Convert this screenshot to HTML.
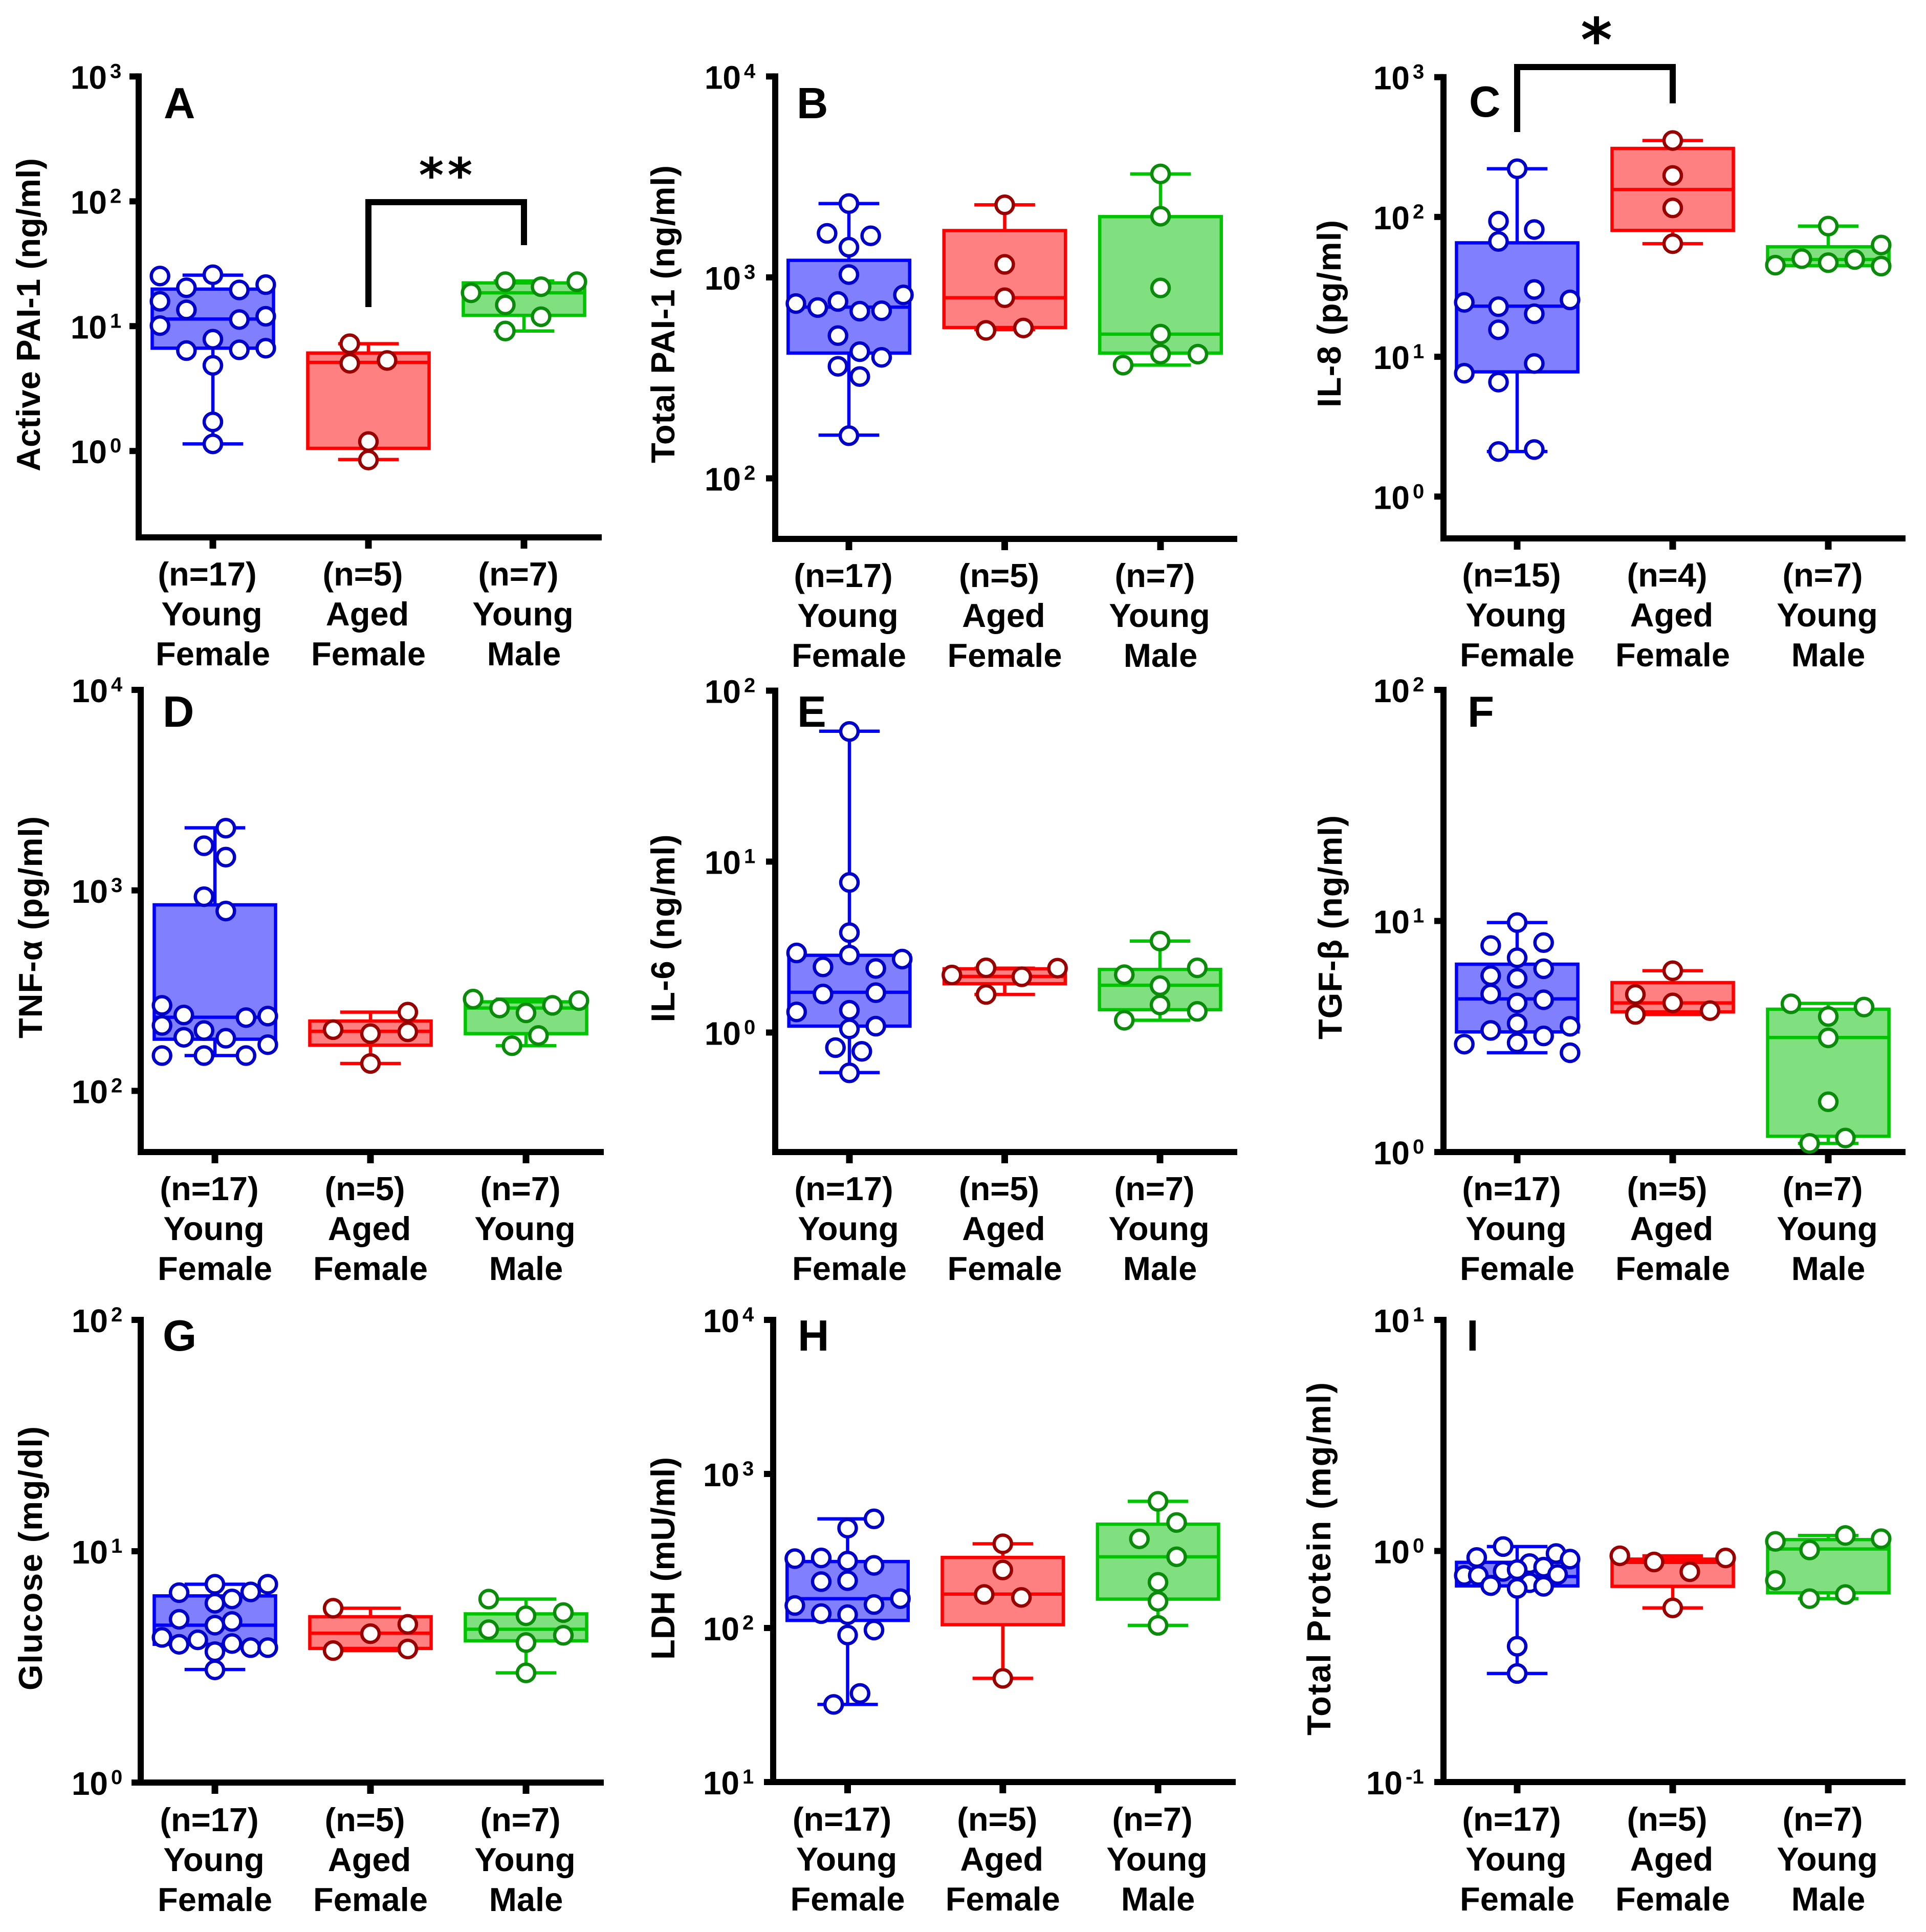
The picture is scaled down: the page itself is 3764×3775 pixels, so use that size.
<!DOCTYPE html>
<html lang="en">
<head>
<meta charset="utf-8">
<title>Box plots of plasma markers by group</title>
<style>
html,body{margin:0;padding:0;background:#fff;}
svg{display:block;}
text{font-family:"Liberation Sans",sans-serif;font-weight:bold;fill:#000;}
.title{font-size:65px;text-anchor:middle;}
.letter{font-size:85px;}
.star{font-family:"DejaVu Sans",sans-serif;text-anchor:middle;}
</style>
</head>
<body>
<svg id="figure" xmlns="http://www.w3.org/2000/svg" width="3764" height="3775" viewBox="0 0 3764 3775">
<rect x="0" y="0" width="3764" height="3775" fill="#fff"/>
<g id="panel-a"><g class="plot"></g>
<text class="title" textLength="612" transform="translate(78 615) rotate(-90)">Active PAI-1 (ng/ml)</text>
<text class="letter" x="320" y="231">A</text>
<text class="star" x="843 899" y="375" font-size="93">**</text></g>
<g id="panel-b"><g class="plot"></g>
<text class="title" textLength="582" transform="translate(1318 614) rotate(-90)">Total PAI-1 (ng/ml)</text>
<text class="letter" x="1557" y="231">B</text></g>
<g id="panel-c"><g class="plot"></g>
<text class="title" textLength="366" transform="translate(2620 613) rotate(-90)">IL-8 (pg/ml)</text>
<text class="letter" x="2871" y="228">C</text>
<text class="star" x="3120" y="119" font-size="118">*</text></g>
<g id="panel-d"><g class="plot"></g>
<text class="title" textLength="434" transform="translate(82 1812) rotate(-90)">TNF-α (pg/ml)</text>
<text class="letter" x="318" y="1420">D</text></g>
<g id="panel-e"><g class="plot"></g>
<text class="title" textLength="367" transform="translate(1318 1814) rotate(-90)">IL-6 (ng/ml)</text>
<text class="letter" x="1558" y="1420">E</text></g>
<g id="panel-f"><g class="plot"></g>
<text class="title" textLength="438" transform="translate(2622 1812) rotate(-90)">TGF-β (ng/ml)</text>
<text class="letter" x="2868" y="1420">F</text></g>
<g id="panel-g"><g class="plot"></g>
<text class="title" textLength="516" transform="translate(82 3045) rotate(-90)">Glucose (mg/dl)</text>
<text class="letter" x="318" y="2639">G</text></g>
<g id="panel-h"><g class="plot"></g>
<text class="title" textLength="396" transform="translate(1318 3045) rotate(-90)">LDH (mU/ml)</text>
<text class="letter" x="1559" y="2639">H</text></g>
<g id="panel-i"><g class="plot"></g>
<text class="title" textLength="690" transform="translate(2600 3046) rotate(-90)">Total Protein (mg/ml)</text>
<text class="letter" x="2866" y="2639">I</text></g>
</svg>
<script>
// Category labels
const groupLine2 = ['Young', 'Aged', 'Young'];
const groupLine3 = ['Female', 'Female', 'Male'];
const groupKeys = ['young-female', 'aged-female', 'young-male'];

// Sample sizes per panel
const A_n = [17, 5, 7];
const B_n = [17, 5, 7];
const C_n = [15, 4, 7];
const D_n = [17, 5, 7];
const E_n = [17, 5, 7];
const F_n = [17, 5, 7];
const G_n = [17, 5, 7];
const H_n = [17, 5, 7];
const I_n = [17, 5, 7];

// Log-axis tick exponents per panel
const A_ticks = [3, 2, 1, 0];
const B_ticks = [4, 3, 2];
const C_ticks = [3, 2, 1, 0];
const D_ticks = [4, 3, 2];
const E_ticks = [2, 1, 0];
const F_ticks = [2, 1, 0];
const G_ticks = [2, 1, 0];
const H_ticks = [4, 3, 2, 1];
const I_ticks = [1, 0, -1];

// Observations. *_v = values, *_j = swarm offset in category units, *_b = [min, q1, median, q3, max]
const A_young_v = [25.2,25.8,21.5,20.3,19.5,15.8,13.5,12.0,11.3,10.1,7.86,6.66,6.37,6.46,4.85,1.71,1.14];
const A_young_j = [-.34,0,.34,-.17,.17,-.34,-.17,.34,.17,-.34,0,.34,-.17,.17,0,0,0];
const A_young_b = [1.14,6.66,11.4,19.8,25.6];
const A_aged_v = [7.23,5.31,5.04,1.19,.847];
const A_aged_j = [-.12,.12,-.12,0,0];
const A_aged_b = [.854,1.05,5.12,6.09,7.23];
const A_male_v = [22.7,22.7,20.7,18.5,14.8,11.9,9.14];
const A_male_j = [-.12,.34,.11,-.34,-.12,.11,-.12];
const A_male_b = [9.14,12.2,18.5,22.2,23];

const B_young_v = [2330,1656,1610,1413,1033,818,741,708,759,679,682,513,427,400,361,321,163];
const B_young_j = [0,-.14,.14,0,0,.35,-.34,-.20,-.07,.07,.21,-.07,.07,.21,-.07,.07,0];
const B_young_b = [164,420,711,1216,2330];
const B_aged_v = [2296,1161,792,545,560];
const B_aged_j = [0,0,0,-.12,.12];
const B_aged_b = [550,563,792,1710,2296];
const B_male_v = [3273,2016,886,522,415,415,366];
const B_male_j = [0,0,0,0,0,.24,-.24];
const B_male_b = [366,420,522,2006,3273];

const C_young_v = [221,93.3,81.3,66.8,30.3,24.5,25.5,22.8,20.3,15.6,8.95,7.63,6.59,2.10,2.17];
const C_young_j = [0,-.12,.11,-.12,.11,-.34,.34,-.12,.11,-.12,.11,-.34,-.12,-.12,.11];
const C_young_b = [2.10,7.8,23.0,65.3,221];
const C_aged_v = [352,198,116,64.4];
const C_aged_j = [0,0,0,0];
const C_aged_b = [64.4,80.1,157,309,352];
const C_male_v = [86,63,50.3,49.6,47.1,45.2,44.5];
const C_male_j = [0,.34,-.17,.17,0,-.34,.34];
const C_male_b = [44.8,44.8,49.6,61.2,86];

const D_young_v = [2043,1670,1465,930,789,267,239,232,236,212,200,185,183,170,150,150,150];
const D_young_j = [.07,-.07,.07,-.07,.07,-.34,-.20,.20,.34,-.34,-.07,-.20,.07,.34,-.34,-.07,.20];
const D_young_b = [150,181,233,847,2052];
const D_aged_v = [247,202,197,193,137];
const D_aged_j = [.24,-.24,.24,0,0];
const D_aged_b = [137,169,198,223,247];
const D_male_v = [287,282,267,259,245,189,168];
const D_male_j = [-.34,.34,.17,-.17,0,.08,-.09];
const D_male_b = [168,193,259,278,287];

const E_young_v = [57.7,7.55,3.84,2.92,2.84,2.69,2.42,2.37,1.68,1.71,1.32,1.35,1.05,1.09,.816,.776,.581];
const E_young_j = [0,0,0,-.34,0,.34,-.17,.17,-.17,.17,-.34,0,0,.17,-.09,.08,0];
const E_young_b = [.583,1.09,1.72,2.83,57.9];
const E_aged_v = [2.38,2.39,2.17,2.12,1.67];
const E_aged_j = [.34,-.12,-.34,.11,-.12];
const E_aged_b = [1.67,1.93,2.13,2.36,2.38];
const E_male_v = [3.43,2.39,2.18,1.88,1.45,1.33,1.18];
const E_male_j = [0,.24,-.23,0,0,.24,-.23];
const E_male_b = [1.18,1.36,1.89,2.34,3.43];

const F_young_v = [9.84,7.83,8.06,6.93,6.21,5.80,5.64,4.83,4.56,4.42,3.60,3.50,3.36,3.18,2.93,2.97,2.69];
const F_young_j = [0,-.17,.17,0,.17,-.17,0,-.17,.17,0,0,.34,-.17,.17,-.34,0,.34];
const F_young_b = [2.69,3.31,4.60,6.50,9.84];
const F_aged_v = [6.09,4.81,4.42,3.94,4.09];
const F_aged_j = [0,-.24,0,-.24,.24];
const F_aged_b = [3.94,4.04,4.42,5.41,6.09];
const F_male_v = [4.38,4.24,3.86,3.12,1.65,1.15,1.09];
const F_male_j = [-.24,.23,0,0,0,.11,-.12];
const F_male_b = [1.09,1.17,3.13,4.15,4.40];

const G_young_v = [7.20,7.20,6.62,6.67,5.96,6.22,5.08,4.97,4.79,4.24,4.14,3.96,3.99,3.83,3.83,3.68,3.07];
const G_young_j = [.34,0,-.23,.23,0,.11,-.23,.11,0,-.34,-.11,-.23,.11,.23,.34,0,0];
const G_young_b = [3.08,3.96,4.79,6.41,7.20];
const G_aged_v = [5.67,4.83,4.40,3.72,3.78];
const G_aged_j = [-.24,.24,0,-.24,.24];
const G_aged_b = [3.72,3.80,4.42,5.21,5.67];
const G_male_v = [6.21,5.43,5.26,4.58,4.33,4.03,2.98];
const G_male_j = [-.24,.24,0,-.24,.24,0,0];
const G_male_b = [2.98,4.10,4.60,5.36,6.21];

const H_young_v = [511,445,282,285,272,255,203,200,155,140,142,124,122,97,90,37.6,31.9];
const H_young_j = [.17,0,-.34,-.17,0,.17,0,-.17,.34,-.34,.17,-.17,0,.17,0,.08,-.09];
const H_young_b = [31.9,112,155,270,511];
const H_aged_v = [352,238,165,158,47.1];
const H_aged_j = [0,0,-.12,.12,0];
const H_aged_b = [47.1,105,166,287,352];
const H_male_v = [664,484,379,290,198,149,104];
const H_male_j = [0,.12,-.12,.12,0,0,0];
const H_male_b = [104,154,290,472,664];

const I_young_v = [1.045,.975,.937,.922,.882,.851,.816,.830,.791,.784,.784,.708,.729,.703,.689,.387,.295];
const I_young_j = [-.09,.25,-.26,.34,.08,.17,-.09,0,.26,-.34,-.25,-.17,.08,.17,0,0,0];
const I_young_b = [.295,.706,.775,.893,1.045];
const I_aged_v = [.953,.933,.896,.813,.567];
const I_aged_j = [-.34,.34,-.12,.11,0];
const I_aged_b = [.567,.703,.893,.922,.953];
const I_male_v = [1.167,1.13,1.10,1.01,.746,.648,.622];
const I_male_j = [.11,.34,-.34,-.12,-.34,.11,-.12];
const I_male_b = [.622,.659,1.02,1.12,1.167];

// Panel frames (layout only)
const panels = [
  {id:'a', ax:271,  bottom:1050, right:1176, cat0:416,    step:304,   expHi:3, yHi:149.4,  expLo:0,  yLo:881.2,  labelEnd:209,  labelDy:0, n:A_n, ticks:A_ticks, groups:[[A_young_v,A_young_j,A_young_b],[A_aged_v,A_aged_j,A_aged_b],[A_male_v,A_male_j,A_male_b]], bracket:{from:1,to:2,y:395,yFrom:600,yTo:479}},
  {id:'b', ax:1515, bottom:1053, right:2418, cat0:1659,   step:304.5, expHi:4, yHi:149.4,  expLo:2,  yLo:934.6,  labelEnd:1448, labelDy:0, n:B_n, ticks:B_ticks, groups:[[B_young_v,B_young_j,B_young_b],[B_aged_v,B_aged_j,B_aged_b],[B_male_v,B_male_j,B_male_b]]},
  {id:'c', ax:2821, bottom:1052, right:3724, cat0:2965,   step:304,   expHi:3, yHi:150.7,  expLo:0,  yLo:970.3,  labelEnd:2755, labelDy:0, n:C_n, ticks:C_ticks, groups:[[C_young_v,C_young_j,C_young_b],[C_aged_v,C_aged_j,C_aged_b],[C_male_v,C_male_j,C_male_b]], bracket:{from:0,to:1,y:131,yFrom:258,yTo:202}},
  {id:'d', ax:275,  bottom:2251, right:1180, cat0:420,    step:304,   expHi:4, yHi:1348,   expLo:2,  yLo:2131.5, labelEnd:211,  labelDy:0, n:D_n, ticks:D_ticks, groups:[[D_young_v,D_young_j,D_young_b],[D_aged_v,D_aged_j,D_aged_b],[D_male_v,D_male_j,D_male_b]]},
  {id:'e', ax:1515, bottom:2251, right:2418, cat0:1660,   step:303.5, expHi:2, yHi:1349.5, expLo:0,  yLo:2017.5, labelEnd:1448, labelDy:0, n:E_n, ticks:E_ticks, groups:[[E_young_v,E_young_j,E_young_b],[E_aged_v,E_aged_j,E_aged_b],[E_male_v,E_male_j,E_male_b]]},
  {id:'f', ax:2821, bottom:2251, right:3724, cat0:2965,   step:304,   expHi:2, yHi:1348,   expLo:0,  yLo:2251,   labelEnd:2755, labelDy:0, n:F_n, ticks:F_ticks, groups:[[F_young_v,F_young_j,F_young_b],[F_aged_v,F_aged_j,F_aged_b],[F_male_v,F_male_j,F_male_b]]},
  {id:'g', ax:275,  bottom:3483, right:1180, cat0:420,    step:304,   expHi:2, yHi:2579,   expLo:0,  yLo:3483,   labelEnd:211,  labelDy:1, n:G_n, ticks:G_ticks, groups:[[G_young_v,G_young_j,G_young_b],[G_aged_v,G_aged_j,G_aged_b],[G_male_v,G_male_j,G_male_b]]},
  {id:'h', ax:1511, bottom:3482, right:2415, cat0:1656.5, step:303.3, expHi:4, yHi:2579,   expLo:1,  yLo:3482,   labelEnd:1445, labelDy:1, n:H_n, ticks:H_ticks, groups:[[H_young_v,H_young_j,H_young_b],[H_aged_v,H_aged_j,H_aged_b],[H_male_v,H_male_j,H_male_b]]},
  {id:'i', ax:2821, bottom:3482, right:3724, cat0:2965,   step:304,   expHi:1, yHi:2579,   expLo:-1, yLo:3482,   labelEnd:2755, labelDy:1, n:I_n, ticks:I_ticks, groups:[[I_young_v,I_young_j,I_young_b],[I_aged_v,I_aged_j,I_aged_b],[I_male_v,I_male_j,I_male_b]]}
];

const boxStroke = ['#0000ff', '#ff0000', '#00c400'];
const boxFill = ['#8080ff', '#ff8080', '#80e080'];
const dotStroke = ['#0000c8', '#990000', '#0a8c0a'];

const NS = 'http://www.w3.org/2000/svg';
function make(parent, tag, attrs) {
  const node = document.createElementNS(NS, tag);
  for (const k in attrs) node.setAttribute(k, attrs[k]);
  parent.appendChild(node);
  return node;
}
function line(parent, x1, y1, x2, y2, stroke, width) {
  return make(parent, 'line', {x1: x1, y1: y1, x2: x2, y2: y2, stroke: stroke, 'stroke-width': width});
}

panels.forEach(function (p) {
  const plot = document.querySelector('#panel-' + p.id + ' .plot');
  const xAxisFn = function (pos) { return p.cat0 + p.step * pos; };
  const yAxisFn = function (v) { return p.yHi + (p.expHi - Math.log10(v)) * (p.yLo - p.yHi) / (p.expHi - p.expLo); };
  const topY = yAxisFn(Math.pow(10, p.ticks[0]));

  // Axes
  const yAxis = line(plot, p.ax, topY - 6, p.ax, p.bottom + 6, '#000', 12);
  
  
  const xAxis = line(plot, p.ax - 6, p.bottom, p.right, p.bottom, '#000', 12);
  
  

  // Y ticks and labels
  p.ticks.forEach(function (e) {
    const y = yAxisFn(Math.pow(10, e));
    const tick = line(plot, p.ax - 18, y, p.ax, y, '#000', 12);
    
    
    const end = e < 0 ? p.labelEnd - 14 : p.labelEnd;
    const base = make(plot, 'text', {x: end, y: y + 24, 'font-size': 64, 'text-anchor': 'end'});
    base.textContent = '10';
    
    
    const sup = make(plot, 'text', {x: end + 6, y: y + 3, 'font-size': 40});
    sup.textContent = String(e);
    
    
  });

  // Groups
  p.groups.forEach(function (g, i) {
    const values = g[0], jitter = g[1], box = g[2];
    const cx = xAxisFn(i);

    const tick = line(plot, cx, p.bottom, cx, p.bottom + 22, '#000', 13);
    
    

    const l1 = make(plot, 'text', {x: cx - 11, y: p.bottom + p.labelDy + 94, 'font-size': 65, 'text-anchor': 'middle'});
    l1.textContent = '(n=' + p.n[i] + ')';
    
    
    const l2 = make(plot, 'text', {x: cx - 2, y: p.bottom + p.labelDy + 172, 'font-size': 65, 'text-anchor': 'middle'});
    l2.textContent = groupLine2[i];
    
    
    const l3 = make(plot, 'text', {x: cx, y: p.bottom + p.labelDy + 250, 'font-size': 65, 'text-anchor': 'middle'});
    l3.textContent = groupLine3[i];
    
    

    const group = make(plot, 'g', {});
    
    

    const halfBox = 0.39 * p.step, halfCap = 0.195 * p.step;
    const yMin = yAxisFn(box[0]), yQ1 = yAxisFn(box[1]), yMed = yAxisFn(box[2]), yQ3 = yAxisFn(box[3]), yMax = yAxisFn(box[4]);

    const whiskerTop = line(group, cx, yMax, cx, yQ3, boxStroke[i], 6.5);
    
    
    const whiskerBottom = line(group, cx, yQ1, cx, yMin, boxStroke[i], 6.5);
    
    
    const capTop = line(group, cx - halfCap, yMax, cx + halfCap, yMax, boxStroke[i], 6.5);
    
    
    const capBottom = line(group, cx - halfCap, yMin, cx + halfCap, yMin, boxStroke[i], 6.5);
    
    

    const rect = make(group, 'rect', {x: cx - halfBox, y: yQ3, width: 2 * halfBox, height: yQ1 - yQ3, fill: boxFill[i], stroke: boxStroke[i], 'stroke-width': 6.5});
    
    
    const median = line(group, cx - halfBox, yMed, cx + halfBox, yMed, boxStroke[i], 6.5);
    
    

    values.forEach(function (v, k) {
      const dot = make(group, 'circle', {cx: xAxisFn(i + jitter[k]), cy: yAxisFn(v), r: 17, fill: '#fff', stroke: dotStroke[i], 'stroke-width': 6.5});
      
      
    });
  });

  // Significance bracket
  if (p.bracket) {
    const b = p.bracket;
    const bx1 = xAxisFn(b.from), bx2 = xAxisFn(b.to);
    const br = make(plot, 'path', {d: 'M' + bx1 + ' ' + b.yFrom + 'V' + b.y + 'H' + bx2 + 'V' + b.yTo, fill: 'none', stroke: '#000', 'stroke-width': 12});
    
    
  }
});
</script>
</body>
</html>
